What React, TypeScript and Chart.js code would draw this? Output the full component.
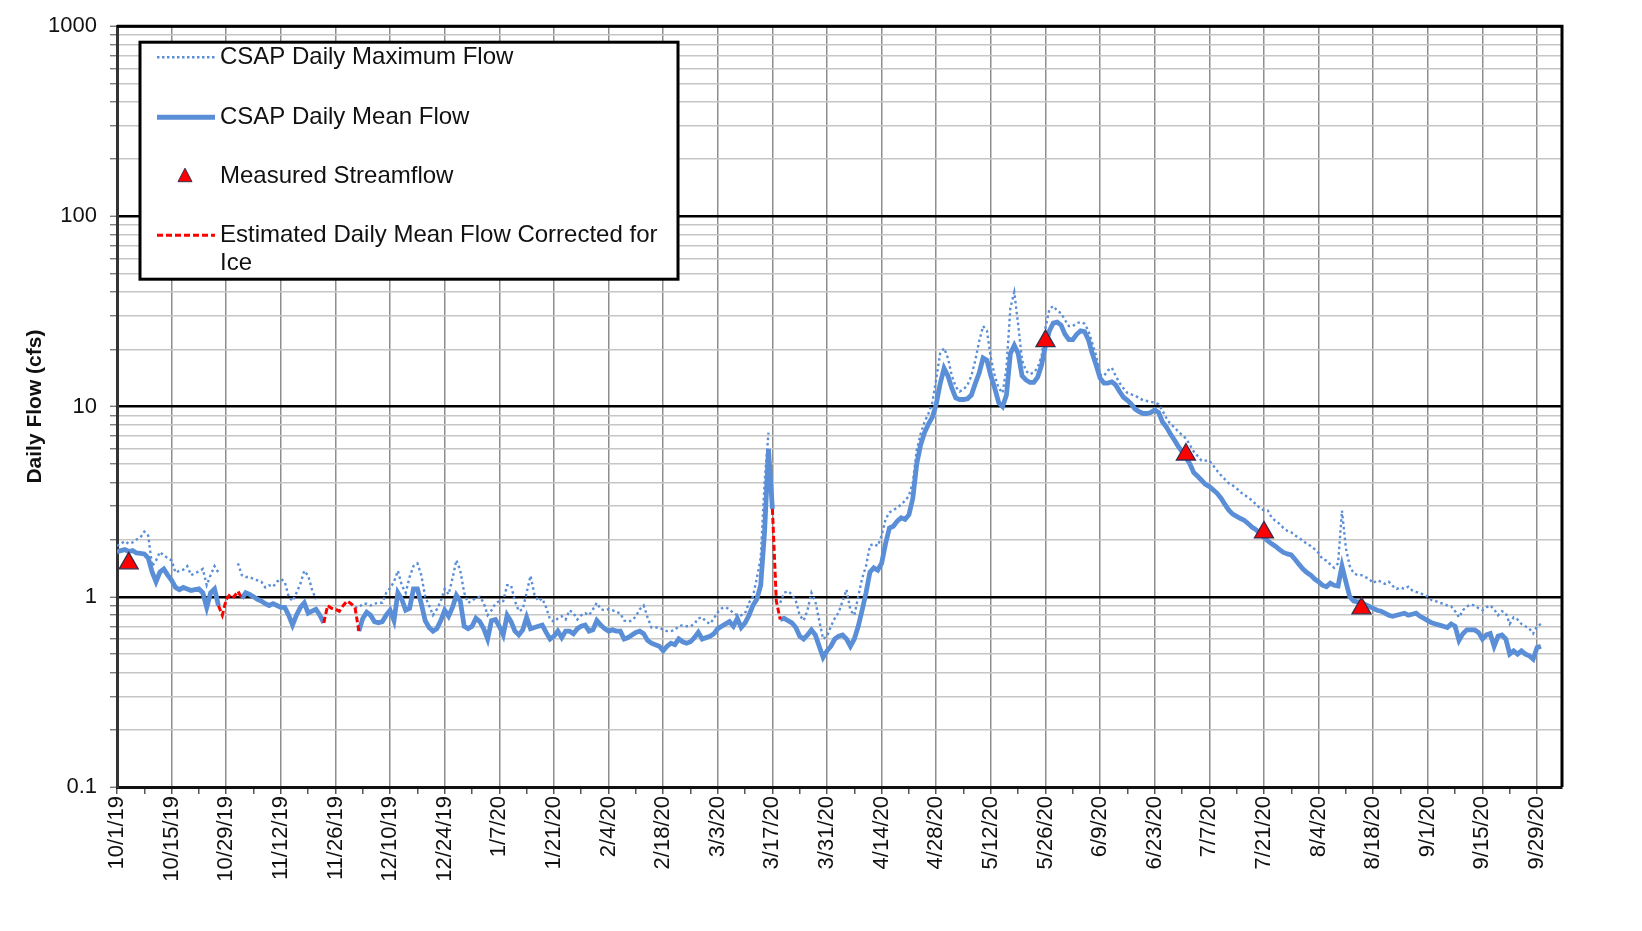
import { useEffect, useRef } from 'react';
import { Chart, registerables } from 'chart.js';

Chart.register(...registerables);

// ---------- data (day index 0 = 10/1/19) ----------
const dateLabels = [
  '10/1/19', '10/15/19', '10/29/19', '11/12/19', '11/26/19', '12/10/19', '12/24/19',
  '1/7/20', '1/21/20', '2/4/20', '2/18/20', '3/3/20', '3/17/20', '3/31/20', '4/14/20',
  '4/28/20', '5/12/20', '5/26/20', '6/9/20', '6/23/20', '7/7/20', '7/21/20', '8/4/20',
  '8/18/20', '9/1/20', '9/15/20', '9/29/20',
];

const yDecadeLabels = ['0.1', '1', '10', '100', '1000'];

const meanFlow: (number | null)[] = [
  1.72, 1.75, 1.77, 1.73, 1.75, 1.70, 1.69, 1.68, 1.60, 1.35, 1.20, 1.35, 1.40, 1.30,
  1.22, 1.12, 1.09, 1.12, 1.10, 1.08, 1.09, 1.10, 1.05, 0.88, 1.05, 1.10, 0.90, null,
  null, null, null, null, 0.98, 1.05, 1.03, 1.00, 0.97, 0.95, 0.92, 0.90, 0.92, 0.90,
  0.88, 0.88, 0.80, 0.71, 0.80, 0.88, 0.93, 0.82, 0.84, 0.86, 0.80, 0.73, null, null,
  null, null, null, null, null, null, 0.66, 0.77, 0.83, 0.80, 0.74, 0.73, 0.74, 0.80,
  0.85, 0.75, 1.05, 0.97, 0.85, 0.87, 1.10, 1.10, 0.92, 0.75, 0.69, 0.66, 0.68, 0.75,
  0.85, 0.79, 0.88, 1.02, 0.95, 0.70, 0.68, 0.70, 0.77, 0.74, 0.68, 0.60, 0.75, 0.76,
  0.70, 0.63, 0.80, 0.74, 0.66, 0.63, 0.67, 0.78, 0.68, 0.69, 0.70, 0.71, 0.65, 0.60,
  0.62, 0.66, 0.61, 0.66, 0.66, 0.64, 0.68, 0.70, 0.71, 0.66, 0.67, 0.75, 0.71, 0.68,
  0.66, 0.67, 0.66, 0.66, 0.60, 0.61, 0.63, 0.65, 0.66, 0.64, 0.59, 0.57, 0.56, 0.55,
  0.52, 0.55, 0.57, 0.56, 0.60, 0.58, 0.57, 0.58, 0.61, 0.65, 0.60, 0.61, 0.62, 0.64,
  0.68, 0.70, 0.72, 0.74, 0.70, 0.77, 0.69, 0.73, 0.80, 0.90, 0.97, 1.15, 2.20, 6.00,
  2.90, null, 0.76, 0.77, 0.75, 0.73, 0.69, 0.62, 0.60, 0.63, 0.67, 0.63, 0.55, 0.48,
  0.52, 0.55, 0.60, 0.62, 0.63, 0.60, 0.55, 0.60, 0.70, 0.85, 1.05, 1.35, 1.42, 1.38,
  1.50, 1.90, 2.30, 2.35, 2.50, 2.60, 2.55, 2.70, 3.30, 5.00, 6.30, 7.30, 8.10, 8.80,
  10.3, 13.2, 15.9, 14.5, 12.5, 11.1, 10.9, 10.9, 11.0, 11.5, 13.2, 15.0, 18.0, 17.5,
  14.5, 12.5, 10.5, 10.0, 11.5, 19.0, 21.0, 19.0, 14.5, 13.8, 13.4, 13.4, 14.3, 16.5,
  21.0, 25.0, 27.5, 27.8, 26.8, 24.0, 22.5, 22.5, 24.0, 25.0, 24.8, 22.5, 19.0, 16.5,
  14.1, 13.3, 13.3, 13.5, 13.0, 12.0, 11.2, 10.8, 10.3, 9.7, 9.4, 9.2, 9.2, 9.3,
  9.6, 9.3, 8.3, 7.8, 7.2, 6.7, 6.2, 5.8, 5.4, 5.0, 4.5, 4.3, 4.1, 3.9,
  3.8, 3.65, 3.5, 3.3, 3.06, 2.85, 2.72, 2.65, 2.58, 2.52, 2.42, 2.32, 2.25, 2.15,
  2.05, 1.97, 1.90, 1.84, 1.77, 1.71, 1.68, 1.66, 1.57, 1.48, 1.40, 1.34, 1.30, 1.24,
  1.20, 1.15, 1.13, 1.18, 1.15, 1.14, 1.45, 1.20, 1.00, 0.95, 0.94, 0.93, 0.91, 0.89,
  0.87, 0.85, 0.84, 0.82, 0.80, 0.79, 0.80, 0.81, 0.82, 0.80, 0.81, 0.82, 0.79, 0.77,
  0.75, 0.73, 0.72, 0.71, 0.70, 0.69, 0.72, 0.70, 0.59, 0.64, 0.67, 0.67, 0.67, 0.65,
  0.60, 0.63, 0.64, 0.55, 0.62, 0.63, 0.60, 0.50, 0.52, 0.50, 0.52, 0.50, 0.49, 0.47,
  0.54, 0.55,
];

const maxFlow: (number | null)[] = [
  1.85, 1.90, 1.96, 1.90, 1.93, 2.00, 2.05, 2.20, 2.10, 1.45, 1.55, 1.72, 1.65, 1.60,
  1.55, 1.34, 1.37, 1.39, 1.45, 1.30, 1.33, 1.36, 1.40, 1.15, 1.30, 1.45, 1.34, null,
  null, null, null, 1.50, 1.30, 1.27, 1.27, 1.24, 1.22, 1.20, 1.12, 1.15, 1.13, 1.20,
  1.24, 1.20, 1.00, 0.95, 1.05, 1.17, 1.37, 1.29, 1.09, 0.97, null, null, null, null,
  null, null, null, null, null, 0.88, 0.88, 0.92, 0.92, 0.90, 0.92, 0.93, 0.93, 1.05,
  1.11, 1.20, 1.37, 1.15, 1.05, 1.27, 1.45, 1.50, 1.30, 1.00, 0.90, 0.80, 0.86, 0.95,
  1.10, 1.03, 1.25, 1.56, 1.37, 1.05, 0.93, 0.95, 0.99, 1.00, 0.93, 0.80, 0.85, 0.92,
  0.95, 0.95, 1.15, 1.15, 0.95, 0.84, 0.86, 1.05, 1.29, 1.03, 0.95, 0.98, 0.88, 0.76,
  0.74, 0.77, 0.79, 0.76, 0.85, 0.82, 0.76, 0.80, 0.82, 0.80, 0.86, 0.93, 0.86, 0.85,
  0.86, 0.85, 0.83, 0.82, 0.75, 0.74, 0.75, 0.79, 0.86, 0.90, 0.78, 0.69, 0.69, 0.69,
  0.67, 0.66, 0.66, 0.67, 0.70, 0.71, 0.70, 0.70, 0.72, 0.77, 0.78, 0.74, 0.72, 0.77,
  0.83, 0.87, 0.88, 0.86, 0.82, 0.80, 0.80, 0.82, 0.93, 1.00, 1.25, 1.60, 4.00, 7.30,
  null, null, 0.93, 1.05, 1.07, 1.03, 0.95, 0.80, 0.75, 0.85, 1.05, 0.95, 0.75, 0.60,
  0.62, 0.70, 0.77, 0.83, 0.95, 1.09, 0.85, 0.80, 1.00, 1.25, 1.45, 1.86, 1.90, 1.85,
  2.10, 2.55, 2.78, 2.85, 2.95, 3.05, 3.20, 3.40, 4.00, 5.90, 7.20, 8.30, 9.20, 10.5,
  14.0, 19.0, 20.3, 18.0, 14.5, 12.7, 12.0, 12.3, 13.0, 14.5, 17.5, 22.0, 26.5, 25.0,
  18.0, 14.5, 12.5, 11.8, 16.0, 33.0, 40.0, 27.0, 17.5, 15.4, 14.8, 15.1, 16.0, 18.5,
  26.0, 32.5, 33.8, 31.9, 31.0, 28.5, 26.5, 26.5, 27.5, 27.8, 27.3, 25.0, 21.5, 18.5,
  14.7, 14.5, 15.5, 16.0, 14.5, 13.3, 12.5, 11.8, 11.6, 11.4, 11.1, 10.8, 10.7, 10.6,
  10.5, 10.3, 9.5, 8.7, 8.1, 7.8, 7.4, 7.1, 6.8, 6.3, 5.8, 5.5, 5.2, 5.2,
  5.2, 4.9, 4.6, 4.35, 4.15, 3.95, 3.85, 3.72, 3.55, 3.43, 3.33, 3.20, 3.06, 2.92,
  2.85, 2.84, 2.60, 2.50, 2.42, 2.30, 2.22, 2.18, 2.10, 2.04, 1.97, 1.90, 1.85, 1.78,
  1.70, 1.58, 1.55, 1.48, 1.42, 1.50, 2.84, 1.80, 1.45, 1.33, 1.30, 1.30, 1.27, 1.24,
  1.18, 1.22, 1.20, 1.17, 1.20, 1.14, 1.10, 1.12, 1.10, 1.13, 1.08, 1.06, 1.05, 1.02,
  1.00, 0.96, 0.95, 0.93, 0.92, 0.90, 0.89, 0.84, 0.78, 0.85, 0.89, 0.91, 0.90, 0.87,
  0.85, 0.88, 0.90, 0.86, 0.80, 0.84, 0.82, 0.72, 0.78, 0.76, 0.72, 0.70, 0.68, 0.64,
  0.70, 0.72,
];

const iceDays = [26, 27, 28, 29, 30, 31, 32, 53, 54, 55, 56, 57, 58, 59, 60, 61, 62, 168, 169, 170];
const iceFlow = [0.90, 0.80, 0.97, 1.03, 1.00, 1.07, 0.98, 0.73, 0.90, 0.87, 0.86, 0.84, 0.90, 0.95, 0.92, 0.88, 0.66, 2.90, 0.95, 0.76];

const measuredDays = [3, 238, 274, 294, 319];
const measuredFlow = [1.5, 22.1, 5.6, 2.18, 0.87];

// ---------- styling ----------
const FONT = '"Liberation Sans", Arial, sans-serif';
const BLUE = '#5a8fd8';
const RED = '#ff0000';

const isDecade = (v: number) => {
  const l = Math.log10(v);
  return Math.abs(l - Math.round(l)) < 1e-6;
};

const yTickValues: number[] = [];
for (let i = 0; i < yDecadeLabels.length - 1; i++) {
  const base = parseFloat(yDecadeLabels[i]);
  for (let k = 1; k <= 9; k++) yTickValues.push(parseFloat((base * k).toPrecision(6)));
}
yTickValues.push(parseFloat(yDecadeLabels[yDecadeLabels.length - 1]));

const framePlugin = {
  id: 'frameAndLegend',
  afterDraw(chart: any) {
    const { ctx, chartArea } = chart;
    const { left, top, right, bottom } = chartArea;
    ctx.save();
    // frame top + right
    ctx.strokeStyle = '#000';
    ctx.lineWidth = 3;
    ctx.beginPath();
    ctx.moveTo(left, top);
    ctx.lineTo(right, top);
    ctx.lineTo(right, bottom);
    ctx.stroke();

    // legend box
    const x0 = left + 23;
    const y0 = top + 16;
    const w = 538;
    const h = 237;
    ctx.fillStyle = '#fff';
    ctx.fillRect(x0, y0, w, h);
    ctx.lineWidth = 3;
    ctx.strokeStyle = '#000';
    ctx.strokeRect(x0, y0, w, h);

    const lx1 = x0 + 17;
    const lx2 = x0 + 75;
    const tx = x0 + 80;
    const rows = [y0 + 15, y0 + 75, y0 + 134, y0 + 193];

    // max
    ctx.strokeStyle = BLUE;
    ctx.lineWidth = 2.5;
    ctx.setLineDash([2.5, 2.5]);
    ctx.beginPath();
    ctx.moveTo(lx1, rows[0]);
    ctx.lineTo(lx2, rows[0]);
    ctx.stroke();
    // mean
    ctx.setLineDash([]);
    ctx.lineWidth = 5;
    ctx.beginPath();
    ctx.moveTo(lx1, rows[1]);
    ctx.lineTo(lx2, rows[1]);
    ctx.stroke();
    // triangle
    const cx = x0 + 45;
    const cy = rows[2];
    ctx.fillStyle = RED;
    ctx.strokeStyle = '#3a2c4c';
    ctx.lineWidth = 1;
    ctx.beginPath();
    ctx.moveTo(cx, cy - 8);
    ctx.lineTo(cx + 7, cy + 5.5);
    ctx.lineTo(cx - 7, cy + 5.5);
    ctx.closePath();
    ctx.fill();
    ctx.stroke();
    // ice
    ctx.strokeStyle = RED;
    ctx.lineWidth = 3;
    ctx.setLineDash([6, 3]);
    ctx.beginPath();
    ctx.moveTo(lx1, rows[3]);
    ctx.lineTo(lx2, rows[3]);
    ctx.stroke();
    ctx.setLineDash([]);

    ctx.fillStyle = '#111';
    ctx.font = `24px ${FONT}`;
    ctx.textBaseline = 'middle';
    ctx.textAlign = 'left';
    ctx.fillText('CSAP Daily Maximum Flow', tx, rows[0]);
    ctx.fillText('CSAP Daily Mean Flow', tx, rows[1]);
    ctx.fillText('Measured Streamflow', tx, rows[2]);
    ctx.fillText('Estimated Daily Mean Flow Corrected for', tx, rows[3]);
    ctx.fillText('Ice', tx, rows[3] + 28);
    ctx.restore();
  },
};

export default function App() {
  const ref = useRef<HTMLCanvasElement | null>(null);

  useEffect(() => {
    if (!ref.current) return;

    const meanData = meanFlow.map((v, i) => ({ x: i, y: v }));
    const maxData = maxFlow.map((v, i) => ({ x: i, y: v }));
    const iceData: { x: number; y: number | null }[] = [];
    iceDays.forEach((d, i) => {
      if (i > 0 && d - iceDays[i - 1] > 1) iceData.push({ x: (d + iceDays[i - 1]) / 2, y: null });
      iceData.push({ x: d, y: iceFlow[i] });
    });
    const measuredData = measuredDays.map((d, i) => ({ x: d, y: measuredFlow[i] }));

    const chart = new Chart(ref.current, {
      type: 'line',
      data: {
        datasets: [
          {
            label: 'Measured Streamflow',
            data: measuredData,
            showLine: false,
            pointStyle: 'triangle',
            pointRadius: 11,
            pointBackgroundColor: RED,
            pointBorderColor: '#3a2c4c',
            pointBorderWidth: 1.3,
            order: 0,
          },
          {
            label: 'Estimated Daily Mean Flow Corrected for Ice',
            data: iceData,
            borderColor: RED,
            borderWidth: 3,
            borderDash: [6, 3],
            pointRadius: 0,
            spanGaps: false,
            order: 1,
          },
          {
            label: 'CSAP Daily Mean Flow',
            data: meanData,
            borderColor: BLUE,
            borderWidth: 4.8,
            pointRadius: 0,
            spanGaps: false,
            order: 2,
          },
          {
            label: 'CSAP Daily Maximum Flow',
            data: maxData,
            borderColor: BLUE,
            borderWidth: 2.4,
            borderDash: [2.5, 3],
            pointRadius: 0,
            spanGaps: false,
            order: 3,
          },
        ] as any,
      },
      options: {
        responsive: false,
        animation: false,
        devicePixelRatio: 1,
        layout: { padding: { top: 20, right: 80, left: 0, bottom: 0 } },
        elements: { line: { tension: 0 } },
        plugins: {
          legend: { display: false },
          tooltip: { enabled: false },
        },
        scales: {
          x: {
            type: 'linear',
            min: 0,
            max: 370.4,
            afterBuildTicks: (scale: any) => {
              const t = [];
              for (let i = 0; i <= (dateLabels.length - 1) * 2; i++) t.push({ value: i * 7 });
              scale.ticks = t;
            },
            afterFit: (scale: any) => {
              scale.height = 931 - 787;
            },
            ticks: {
              autoSkip: false,
              maxRotation: 90,
              minRotation: 90,
              padding: 2,
              color: '#111',
              font: { family: FONT, size: 22 },
              callback: (value: any) => {
                const v = Math.round(Number(value));
                return v % 14 === 0 ? dateLabels[v / 14] : '';
              },
            },
            grid: {
              color: (c: any) => (c.tick && Math.round(c.tick.value) % 14 === 0 ? '#8e8e8e' : 'rgba(0,0,0,0)'),
              lineWidth: 1.5,
              tickColor: '#555',
              tickLength: 7,
              tickWidth: 1.5,
            },
            border: { color: '#111', width: 3 },
          },
          y: {
            type: 'logarithmic',
            min: 0.1,
            max: 1000,
            afterBuildTicks: (scale: any) => {
              scale.ticks = yTickValues.map((v) => ({ value: v, major: isDecade(v) }));
            },
            afterFit: (scale: any) => {
              scale.width = 117;
            },
            ticks: {
              autoSkip: false,
              padding: 13,
              color: '#111',
              font: { family: FONT, size: 22 },
              callback: (value: any) => {
                const v = Number(value);
                if (!isDecade(v)) return '';
                const idx = Math.round(Math.log10(v)) + 1;
                return yDecadeLabels[idx];
              },
            },
            grid: {
              color: (c: any) => (c.tick && isDecade(c.tick.value) ? '#000' : '#c6c6c6'),
              lineWidth: (c: any) => (c.tick && isDecade(c.tick.value) ? 2.5 : 1.5),
              tickColor: '#666',
              tickLength: 7,
              tickWidth: 1.2,
            },
            border: { color: '#333', width: 3 },
            title: {
              display: true,
              text: 'Daily Flow (cfs)',
              color: '#111',
              font: { family: FONT, size: 21, weight: 'bold' },
              padding: { top: 23, bottom: 0 },
            },
          },
        },
      } as any,
      plugins: [framePlugin],
    });

    return () => chart.destroy();
  }, []);

  return (
    <div style={{ position: 'absolute', left: 0, top: 0, width: 1642, height: 931, background: '#fff' }}>
      <canvas ref={ref} width={1642} height={931} style={{ display: 'block', width: 1642, height: 931 }} />
    </div>
  );
}
